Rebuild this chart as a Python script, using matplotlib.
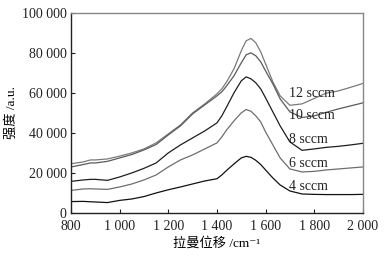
import matplotlib
matplotlib.use('Agg')
import matplotlib.pyplot as plt
from matplotlib.ticker import FuncFormatter

plt.rcParams['font.family'] = ['Liberation Serif', 'Noto Sans CJK SC', 'DejaVu Sans']

shift = [800, 850, 880, 900, 950, 1000, 1050, 1100, 1150, 1200, 1250, 1300, 1350,
         1400, 1420, 1440, 1470, 1500, 1520, 1540, 1560, 1580, 1600, 1630, 1660, 1700,
         1750, 1800, 1850, 1900, 1950, 2000]

s12 = [24600, 25500, 26500, 26500, 27000, 28400, 30000, 32000, 35000, 39500, 44000,
       50000, 54500, 59500, 62000, 65500, 72000, 81000, 86000, 87200, 85000, 80500, 74500,
       65500, 58500, 53800, 54500, 57200, 59900, 61000, 62800, 64700]
s10 = [23000, 24200, 25000, 25000, 25800, 27500, 29200, 31500, 34200, 39000, 43500,
       49500, 54000, 58500, 60500, 63500, 68500, 75000, 79000, 80000, 78500, 75500, 71000,
       64500, 57000, 50500, 47700, 48500, 50300, 52000, 53500, 55000]
s8 = [15800, 16500, 16800, 16800, 16300, 18000, 20000, 22300, 25000, 30000, 34000,
      37500, 41000, 45000, 48500, 53000, 60000, 66000, 68000, 67000, 65000, 62000, 57500,
      50500, 43500, 35500, 31300, 32000, 32800, 33300, 34000, 34800]
s6 = [11300, 12000, 12100, 12000, 11800, 13000, 14500, 16500, 19000, 23000, 26500,
      29000, 32000, 35000, 38000, 41500, 46000, 50000, 51700, 50800, 48500, 45500, 40500,
      34000, 27500, 22000, 20500, 20800, 21500, 22000, 22500, 23000]
s4 = [5700, 5800, 5600, 5500, 5200, 6300, 7000, 8200, 10000, 11600, 13000, 14500,
      16000, 17100, 19000, 21300, 24500, 27500, 28300, 27800, 26300, 24200, 21500, 17500,
      14000, 11000, 9500, 9300, 9200, 9200, 9200, 9300]

labels = ['12 sccm', '10 sccm', '8 sccm', '6 sccm', '4 sccm']
label_y = [59700, 48600, 36900, 24800, 13400]
colors = ['#7a7a7a', '#5a5a5a', '#1e1e1e', '#6e6e6e', '#111111']

fig = plt.figure(figsize=(3.86, 2.56), dpi=100)
ax = fig.add_axes([0.184, 0.168, 0.756, 0.782])

for ys, c in zip([s12, s10, s8, s6, s4], colors):
    ax.plot(shift, ys, color=c, lw=0.9)

for lab, ly in zip(labels, label_y):
    ax.text(1697, ly, lab, fontsize=10, va='center', ha='left', color='#222222')

ax.set_xlim(800, 2000)
ax.set_ylim(0, 100000)
ax.set_xticks(range(800, 2001, 200))
ax.set_yticks(range(0, 100001, 20000))

def spaced(v, pos):
    return '{:,}'.format(int(v)).replace(',', ' ')

ax.xaxis.set_major_formatter(FuncFormatter(spaced))
ax.yaxis.set_major_formatter(FuncFormatter(spaced))
ax.tick_params(direction='in', length=3, width=0.8, labelsize=10, colors='#222222')
ax.tick_params(axis='x', pad=5)
ax.tick_params(axis='y', pad=3)
ax.tick_params(top=False, right=False)
for side in ['left', 'bottom']:
    ax.spines[side].set_color('#222222')
    ax.spines[side].set_linewidth(1.0)
for side in ['top', 'right']:
    ax.spines[side].set_color('#888888')
    ax.spines[side].set_linewidth(1.0)

ax.set_xlabel('拉曼位移 /cm⁻¹', fontsize=9.5, labelpad=3)
ax.set_ylabel('强度 /a.u.', fontsize=9.5, labelpad=3)

fig.savefig('out.png', dpi=100)
